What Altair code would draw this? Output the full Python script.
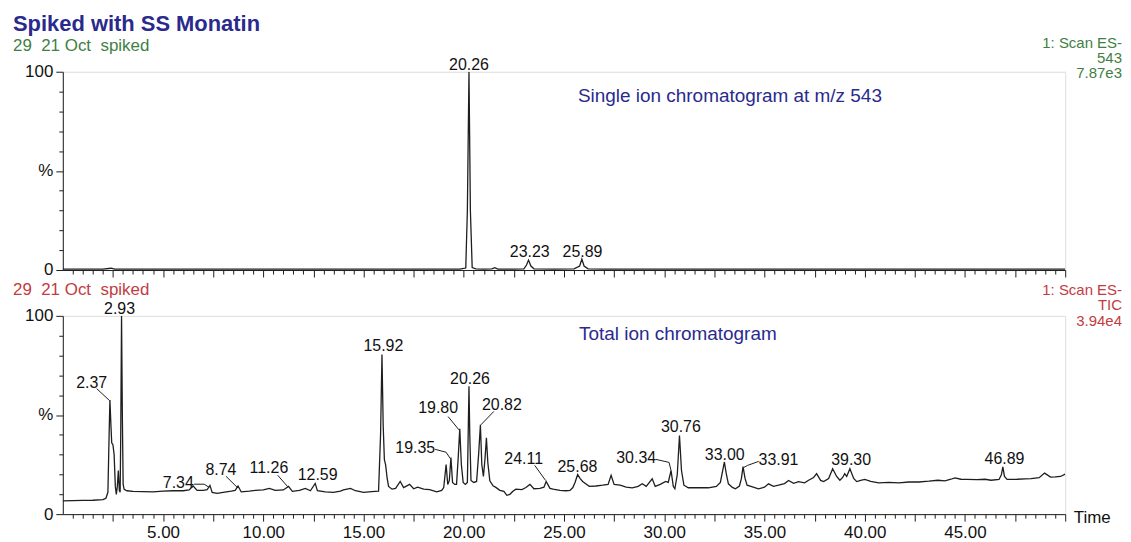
import altair as alt
import pandas as pd

# ---------------- data ----------------
# Single ion chromatogram, m/z 543 (time in min, relative intensity %)
sir_time = [0.0, 1.0, 2.0, 2.4, 2.6, 3.5, 5.0, 7.0, 9.0, 11.0, 13.0, 15.0, 17.0, 19.0,
            19.8, 20.1, 20.18, 20.26, 20.33, 20.42, 20.6, 21.0, 21.4, 21.55, 21.7, 22.5,
            23.0, 23.13, 23.23, 23.35, 23.5, 24.5, 25.5, 25.78, 25.89, 26.0, 26.2, 27.0,
            29.0, 31.0, 33.0, 35.0, 37.0, 39.0, 41.0, 43.0, 45.0, 47.0, 49.0, 50.0]
sir_pct = [0.5, 0.4, 0.5, 0.9, 0.4, 0.4, 0.5, 0.4, 0.5, 0.4, 0.5, 0.4, 0.5, 0.4,
           0.5, 1.0, 30.0, 100.0, 30.0, 1.2, 0.6, 0.5, 0.6, 1.2, 0.5, 0.5,
           0.6, 2.5, 5.0, 2.0, 0.6, 0.5, 0.6, 2.0, 5.5, 2.0, 0.6, 0.5,
           0.4, 0.5, 0.4, 0.5, 0.4, 0.5, 0.4, 0.5, 0.4, 0.5, 0.4, 0.5]

# Total ion chromatogram
tic_time = [0.0, 0.5, 1.0, 1.5, 2.0, 2.15, 2.25, 2.31, 2.35, 2.40, 2.44, 2.50, 2.56, 2.62,
            2.67, 2.72, 2.77, 2.82, 2.86, 2.89, 2.93, 2.97, 3.01, 3.06, 3.2, 3.5, 4.0, 4.5,
            5.0, 5.5, 6.0, 6.3, 6.5, 6.7, 7.0, 7.2, 7.34, 7.45, 7.7, 8.0, 8.4, 8.6, 8.74,
            8.9, 9.3, 9.6, 10.0, 10.3, 10.6, 11.0, 11.26, 11.45, 11.8, 12.1, 12.35, 12.59,
            12.7, 13.1, 13.5, 13.85, 14.0, 14.35, 14.6, 15.0, 15.4, 15.75, 15.85, 15.92,
            15.98, 16.04, 16.1, 16.18, 16.25, 16.42, 16.6, 16.83, 17.0, 17.3, 17.5, 17.7,
            18.0, 18.3, 18.65, 18.9, 19.0, 19.12, 19.2, 19.28, 19.36, 19.44, 19.55, 19.64,
            19.72, 19.8, 19.88, 19.97, 20.08, 20.18, 20.22, 20.26, 20.30, 20.36, 20.5, 20.64,
            20.74, 20.83, 20.9, 20.98, 21.06, 21.13, 21.2, 21.3, 21.46, 21.6, 21.8, 22.0,
            22.15, 22.3, 22.45, 22.6, 22.9, 23.1, 23.3, 23.5, 23.8, 24.0, 24.11, 24.3, 24.45,
            24.8, 25.1, 25.3, 25.44, 25.55, 25.68, 25.8, 25.93, 26.1, 26.26, 26.6, 26.93,
            27.2, 27.35, 27.5, 27.8, 28.1, 28.4, 28.7, 28.9, 29.1, 29.4, 29.55, 29.8, 30.07,
            30.2, 30.34, 30.45, 30.53, 30.65, 30.76, 30.86, 30.98, 31.2, 31.7, 32.2, 32.6,
            32.8, 33.0, 33.1, 33.2, 33.4, 33.55, 33.75, 33.85, 33.93, 34.03, 34.13, 34.4,
            34.7, 35.0, 35.2, 35.45, 35.7, 36.0, 36.2, 36.45, 36.7, 37.0, 37.2, 37.45, 37.6,
            37.8, 37.95, 38.2, 38.4, 38.6, 38.76, 38.9, 39.0, 39.1, 39.26, 39.45, 39.6, 39.8,
            40.0, 40.3, 40.7, 41.2, 41.7, 42.2, 42.7, 43.2, 43.65, 44.0, 44.3, 44.5, 44.8,
            45.1, 45.6, 46.0, 46.3, 46.7, 46.82, 46.89, 46.97, 47.1, 47.6, 48.0, 48.3, 48.7,
            48.97, 49.27, 49.5, 49.77, 50.0]
tic_pct = [6.7, 6.8, 6.9, 7.0, 7.3, 8.0, 11.0, 40.0, 57.5, 45.0, 36.0, 35.0, 30.0, 14.0,
           10.0, 14.0, 22.0, 12.0, 11.0, 40.0, 100.0, 50.0, 15.0, 12.5, 11.8, 11.5, 11.4, 11.2,
           11.6, 11.8, 11.8, 12.2, 14.2, 12.0, 12.0, 12.4, 14.5, 11.0, 10.5, 11.0, 11.6, 12.0, 14.2,
           11.2, 11.6, 12.0, 12.2, 13.0, 12.0, 12.2, 14.0, 11.5, 12.0, 13.0, 11.8, 15.5,
           11.8, 11.2, 11.0, 11.6, 12.2, 13.0, 11.8, 11.0, 11.4, 11.6, 40.0, 80.5,
           45.0, 27.5, 25.0, 18.0, 14.0, 12.6, 13.0, 16.5, 13.4, 15.0, 12.8, 13.6,
           12.6, 12.4, 11.2, 12.0, 13.4, 25.0, 15.0, 17.0, 28.5, 16.0, 15.0, 15.0,
           28.0, 43.0, 25.0, 16.0, 15.0, 16.0, 40.0, 64.5, 40.0, 17.0, 16.0, 16.5,
           30.0, 45.0, 25.0, 19.0, 28.0, 38.5, 26.0, 16.8, 14.3, 13.5, 12.0, 11.5,
           9.5, 10.0, 11.5, 12.6, 12.4, 13.4, 15.0, 12.8, 13.0, 13.6, 16.5, 13.0, 12.6,
           12.0, 11.8, 12.0, 13.4, 16.0, 20.0, 18.0, 16.5, 15.2, 14.0, 14.2, 14.6,
           15.0, 19.6, 15.0, 14.6, 13.6, 13.3, 14.0, 15.3, 14.0, 17.8, 14.0, 15.0, 16.5,
           16.0, 22.0, 14.0, 12.8, 20.0, 39.7, 22.0, 14.6, 13.3, 13.4, 13.3, 14.0,
           16.0, 26.3, 20.0, 15.3, 13.5, 12.8, 14.2, 18.0, 24.0, 18.0, 14.6, 13.8,
           12.8, 13.6, 15.3, 14.0, 14.6, 15.4, 17.0, 15.5, 16.4, 15.8, 17.1, 18.5, 20.4,
           17.0, 16.4, 18.0, 22.9, 19.0, 17.1, 18.5, 20.4, 19.0, 22.9, 18.0, 16.4, 17.0,
           17.5, 16.5, 15.8, 16.0, 15.8, 16.2, 16.2, 16.6, 17.1, 16.8, 17.6, 18.3, 17.6,
           17.5, 17.4, 17.6, 17.1, 17.5, 20.0, 23.8, 19.0, 17.5, 17.6, 17.8, 17.9, 18.4,
           20.7, 18.7, 18.8, 19.0, 20.2]

# Peak labels (retention times)
sir_labels = ["20.26", "23.23", "25.89"]
tic_labels = ["2.37", "2.93", "7.34", "8.74", "11.26", "12.59", "15.92", "19.35", "19.80",
              "20.26", "20.82", "24.11", "25.68", "30.34", "30.76", "33.00", "33.91",
              "39.30", "46.89"]

# ---------------- annotation layout (data units: min, %) ----------------
sir_label_pos = [(20.26, 103.5), (23.29, 9.0), (25.92, 9.0)]
tic_label_pos = [(1.44, 66.3), (2.83, 103.5), (5.76, 15.6), (7.89, 22.1), (10.28, 23.1),
                 (12.71, 19.6), (15.99, 84.9), (17.58, 33.2), (18.72, 53.3), (20.31, 68.3),
                 (21.90, 54.8), (22.99, 27.6), (25.67, 23.6), (28.60, 28.1), (30.83, 43.7),
                 (33.02, 29.6), (35.70, 27.1), (39.32, 27.1), (46.97, 27.6)]
tic_leaders = [
    [(1.69, 63.3), (2.33, 57.3)],
    [(6.55, 15.1), (7.05, 15.1), (7.30, 13.5)],
    [(8.14, 19.1), (8.69, 13.6)],
    [(10.72, 19.6), (11.22, 13.8)],
    [(18.57, 32.7), (19.12, 31.2), (19.33, 28.0)],
    [(19.22, 49.2), (19.76, 42.5)],
    [(21.50, 51.8), (20.85, 45.0)],
    [(23.54, 24.6), (24.08, 17.0)],
    [(29.59, 27.6), (30.24, 26.1), (30.34, 22.0)],
    [(34.71, 26.6), (34.16, 24.6), (33.96, 23.5)],
]

FONT = "Liberation Sans"
NAVY = "#2a2a8e"
GREEN = "#3f7f45"
RED = "#c23c42"
INK = "#1e1e1e"
W, H = 1006, 199

x_ticks = [i * 0.5 for i in range(1, 101)]
y_ticks = list(range(0, 101, 10))


def x_enc(field, show_labels):
    ax = alt.Axis(
        values=x_ticks,
        labels=show_labels,
        labelExpr="datum.value % 5 === 0 && datum.value < 50 ? format(datum.value, '.2f') : ''",
        labelOverlap=False, labelFlush=False, labelFontSize=17, labelPadding=3,
        labelColor="#111", labelFont=FONT,
        tickSize={"condition": {"test": "datum.value % 2.5 === 0", "value": 7}, "value": 4},
        tickColor=INK, domainColor=INK, grid=False,
        title="Time" if show_labels else None,
        titleX=1014, titleY=3, titleAlign="left", titleBaseline="middle",
        titleFontSize=17, titleFontWeight="normal", titleFont=FONT, titleColor="#111",
    )
    return alt.X(field, type="quantitative", scale=alt.Scale(domain=[0, 50], nice=False, zero=False), axis=ax)


def y_enc(field):
    ax = alt.Axis(
        values=y_ticks,
        labelExpr="datum.value === 50 ? '%' : (datum.value % 100 === 0 ? datum.label : '')",
        labelOverlap=False, labelFontSize=17, labelPadding=3, labelColor="#111", labelFont=FONT,
        tickSize={"condition": {"test": "datum.value % 50 === 0", "value": 7}, "value": 4},
        tickColor=INK, domainColor=INK, grid=False, title=None,
    )
    return alt.Y(field, type="quantitative", scale=alt.Scale(domain=[0, 100], nice=False), axis=ax)


def note(text, px, py, color, size, align="left", weight="normal"):
    return alt.Chart(pd.DataFrame({"s": [text]})).mark_text(
        align=align, baseline="middle", color=color, fontSize=size, font=FONT, fontWeight=weight
    ).encode(x=alt.value(px), y=alt.value(py), text="s:N")


def panel(times, pcts, labels, label_pos, leaders, show_x_labels):
    trace = alt.Chart(pd.DataFrame({"t": times, "v": pcts})).mark_line(
        color=INK, strokeWidth=1.3, clip=True
    ).encode(x=x_enc("t", show_x_labels), y=y_enc("v"), order="t:Q")
    lab_df = pd.DataFrame({"lab": labels, "lt": [p[0] for p in label_pos], "lv": [p[1] for p in label_pos]})
    labs = alt.Chart(lab_df).mark_text(
        align="center", baseline="middle", fontSize=16, font=FONT, color="#111"
    ).encode(x=x_enc("lt", show_x_labels), y=y_enc("lv"), text="lab:N")
    layers = [trace, labs]
    if leaders:
        rows = []
        for gi, pts in enumerate(leaders):
            for k, (a, b) in enumerate(pts):
                rows.append({"g": gi, "k": k, "a": a, "b": b})
        lead = alt.Chart(pd.DataFrame(rows)).mark_line(color=INK, strokeWidth=1).encode(
            x=x_enc("a", show_x_labels), y=y_enc("b"), detail="g:N", order="k:Q"
        )
        layers.append(lead)
    return layers


NB = "\u00a0"
top_layers = panel(sir_time, sir_pct, sir_labels, sir_label_pos, None, False)
top_layers += [
    note("Spiked with SS Monatin", -50, -48, NAVY, 22, weight="bold"),
    note(f"29{NB} 21 Oct{NB} spiked", -50, -26, GREEN, 17),
    note("1: Scan ES-", 1063, -29, GREEN, 15, align="right"),
    note("543", 1063, -14, GREEN, 15, align="right"),
    note("7.87e3", 1063, 1, GREEN, 15, align="right"),
    note("Single ion chromatogram at m/z 543", 517, 24, NAVY, 19),
]
top = alt.layer(*top_layers).properties(width=W, height=H)

bot_layers = panel(tic_time, tic_pct, tic_labels, tic_label_pos, tic_leaders, True)
bot_layers += [
    note(f"29{NB} 21 Oct{NB} spiked", -50, -26, RED, 17),
    note("1: Scan ES-", 1063, -26, RED, 15, align="right"),
    note("TIC", 1063, -11, RED, 15, align="right"),
    note("3.94e4", 1063, 5, RED, 15, align="right"),
    note("Total ion chromatogram", 518, 18, NAVY, 19),
]
bottom = alt.layer(*bot_layers).properties(width=W, height=H)

chart = alt.vconcat(top, bottom, spacing=46, bounds="flush").properties(
    padding={"left": 4, "top": 3, "right": 0, "bottom": 0}
).configure_view(stroke=None).configure(font=FONT, background="white")

chart.save("out.html", embed_options={"renderer": "svg", "actions": False})
